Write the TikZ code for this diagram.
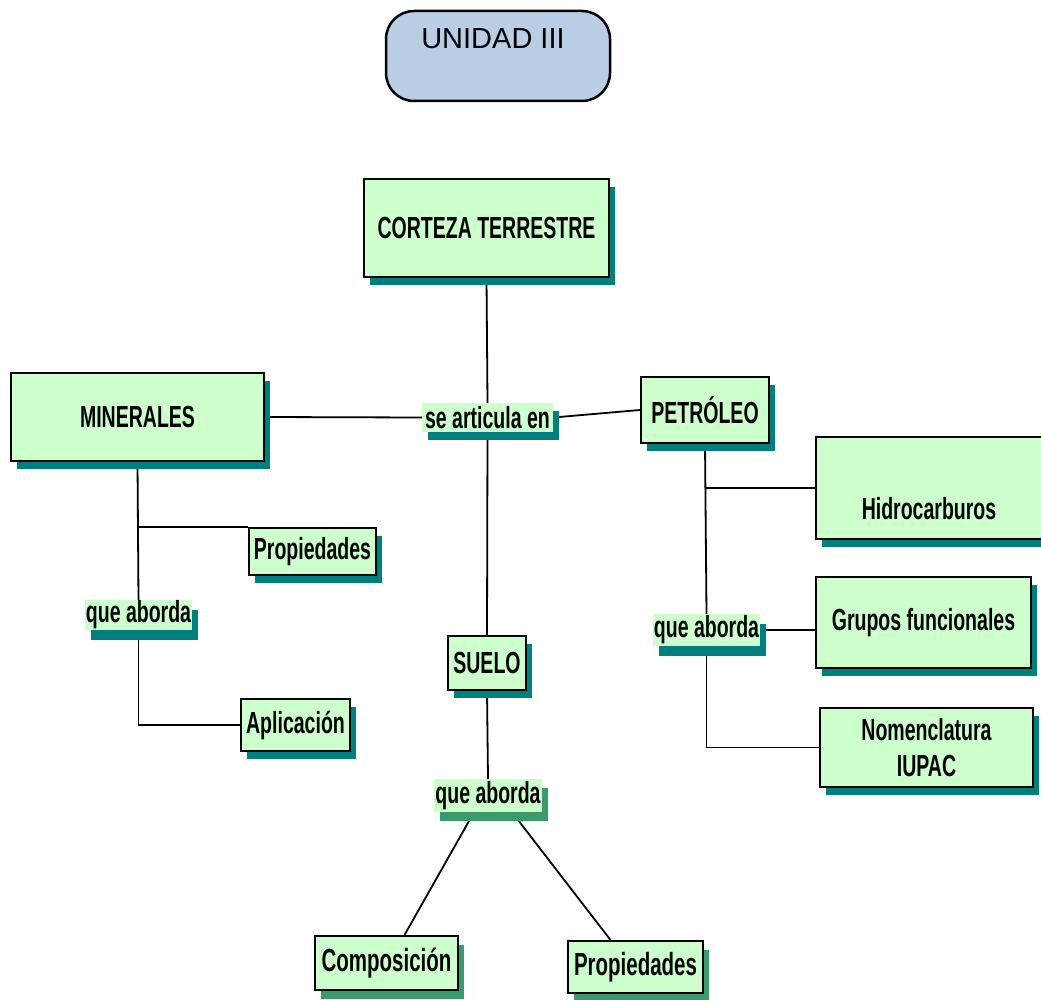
\documentclass[tikz,border=0pt]{standalone}
\usepackage{fontspec}
\setmainfont{Liberation Sans}
\newfontfamily\narrowsans[FakeStretch=0.64]{Liberation Sans}
\usetikzlibrary{shadows,backgrounds,calc}

\definecolor{boxgreen}{HTML}{CCFFCC}
\definecolor{shadowteal}{HTML}{007F7F}
\definecolor{shadowsea}{HTML}{3A9A6A}
\definecolor{unitblue}{HTML}{B9CDE5}

\tikzset{
  concept/.style={draw=black, line width=2pt, fill=boxgreen, inner sep=0pt,
    font=\narrowsans\bfseries\fontsize{30.5}{34}\selectfont, align=center},
  linkword/.style={fill=boxgreen, inner sep=0pt,
    font=\narrowsans\bfseries\fontsize{30.5}{34}\selectfont},
  tealshadow/.style={copy shadow={shadow xshift=6pt, shadow yshift=-8pt,
    fill=shadowteal, draw=none}},
  seashadow/.style={copy shadow={shadow xshift=6pt, shadow yshift=-9pt,
    fill=shadowsea, draw=none}},
  link/.style={draw=black, line width=1.8pt}
}

\begin{document}
\begin{tikzpicture}[x=1pt, y=-1pt]
\clip (0,0) rectangle (1041,1000);

% heading
\node[draw=black, line width=2.5pt, fill=unitblue, rounded corners=28pt,
      minimum width=224pt, minimum height=90pt] (unit) at (498,56) {};
\node[font=\fontsize{29}{33}\selectfont, anchor=base, inner sep=0pt] (unittext) at (493,49) {UNIDAD III};

% concepts
\node[concept, tealshadow, minimum width=245pt, minimum height=98pt] (corteza) at (486.5,228) {CORTEZA TERRESTRE};
\node[concept, tealshadow, minimum width=253pt, minimum height=88pt] (minerales) at (137.5,417) {MINERALES};
\node[concept, tealshadow, minimum width=128pt, minimum height=66pt] (petroleo) at (705,410) {PETRÓLEO};
\node[concept, tealshadow, minimum width=244pt, minimum height=102pt] (hidro) at (938,488) {};
\node[font=\narrowsans\bfseries\fontsize{30.5}{34}\selectfont, inner sep=0pt] (hidrotext) at (929,509) {Hidrocarburos};
\node[concept, tealshadow, minimum width=215pt, minimum height=91pt] (grupos) at (923.5,622.5) {Grupos funcionales};
\node[concept, tealshadow, minimum width=213pt, minimum height=79pt] (nomen) at (926.5,747.5) {Nomenclatura\\[2pt]IUPAC};
\node[concept, tealshadow, minimum width=127pt, minimum height=47pt] (propL) at (312.5,551.5) {Propiedades};
\node[concept, tealshadow, minimum width=109pt, minimum height=52pt] (aplic) at (295.5,725) {Aplicación};
\node[concept, tealshadow, minimum width=78pt, minimum height=54pt] (suelo) at (487,663) {SUELO};
\node[concept, seashadow, minimum width=143pt, minimum height=54pt,
      font=\narrowsans\bfseries\fontsize{32}{36}\selectfont] (compo) at (386.5,963) {Composición};
\node[concept, seashadow, minimum width=135pt, minimum height=52pt,
      font=\narrowsans\bfseries\fontsize{32}{36}\selectfont] (propB) at (635.5,967) {Propiedades};

% linking words
\node[linkword, tealshadow, minimum width=131pt, minimum height=29pt] (articula) at (487.5,417.5) {se articula en};
\node[linkword, copy shadow={shadow xshift=6pt, shadow yshift=-10pt, fill=shadowteal, draw=none},
      minimum width=107pt, minimum height=30pt] (abordaL) at (138.5,615) {que aborda};
\node[linkword, copy shadow={shadow xshift=6pt, shadow yshift=-10pt, fill=shadowteal, draw=none},
      minimum width=107pt, minimum height=32pt] (abordaR) at (706.5,630) {que aborda};
\node[linkword, seashadow, minimum width=108pt, minimum height=33pt] (abordaM) at (488,795.5) {que aborda};

% connectors, kept beneath the boxes and their shadows
\begin{scope}[on background layer]
\fill[white] (0,0) rectangle (1041,1000);
\draw[link] (corteza.south) -- (articula.north);
\draw[link] (minerales.east) -- (articula.west);
\draw[link] (articula.east) -- (petroleo.west);
\draw[link] (articula.south) -- (suelo.north);

\draw[link] (minerales.south) -- (abordaL.north);
\draw[link] (minerales.south |- propL.north west) -- (propL.north west);
\draw[link] (abordaL.south) |- (aplic.west);

\draw[link] (petroleo.south) -- (abordaR.north);
\draw[link] (petroleo.south |- hidro.west) -- (hidro.west);
\draw[link] (abordaR.east) -- (abordaR.east -| grupos.west);
\draw[link] (abordaR.south) |- (nomen.west);

\draw[link] (suelo.south) -- (abordaM.north);
\draw[link] ($(abordaM.south)+(-14,0)$) -- ($(compo.north)+(18,0)$);
\draw[link] ($(abordaM.south)+(24,0)$) -- ($(propB.north)+(-25,0)$);
\end{scope}
\end{tikzpicture}
\end{document}
